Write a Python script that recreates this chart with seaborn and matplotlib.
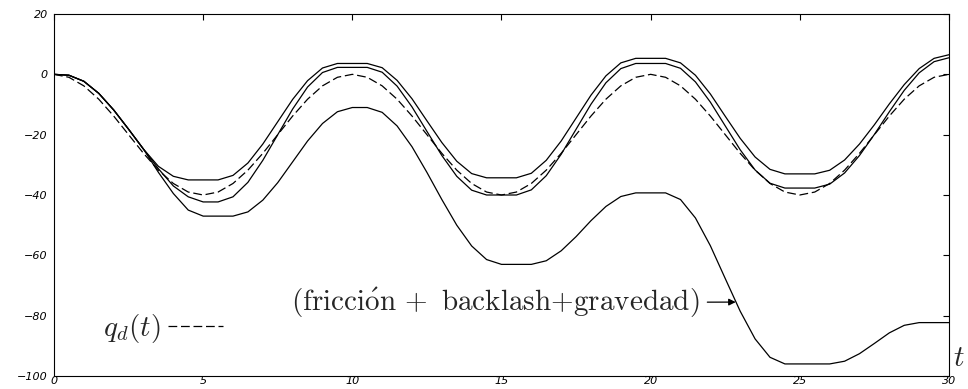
import matplotlib
matplotlib.use('Agg')
import matplotlib.pyplot as plt
import seaborn as sns

# time axis (s)
t = [0, 0.5, 1, 1.5, 2, 2.5, 3, 3.5, 4, 4.5,
     5, 5.5, 6, 6.5, 7, 7.5, 8, 8.5, 9, 9.5,
     10, 10.5, 11, 11.5, 12, 12.5, 13, 13.5, 14, 14.5,
     15, 15.5, 16, 16.5, 17, 17.5, 18, 18.5, 19, 19.5,
     20, 20.5, 21, 21.5, 22, 22.5, 23, 23.5, 24, 24.5,
     25, 25.5, 26, 26.5, 27, 27.5, 28, 28.5, 29, 29.5,
     30]

# desired trajectory q_d(t) (dashed)
q_d = [0, -0.98, -3.82, -8.24, -13.82, -20, -26.18, -31.76, -36.18, -39.02,
       -40, -39.02, -36.18, -31.76, -26.18, -20, -13.82, -8.24, -3.82, -0.98,
       0, -0.98, -3.82, -8.24, -13.82, -20, -26.18, -31.76, -36.18, -39.02,
       -40, -39.02, -36.18, -31.76, -26.18, -20, -13.82, -8.24, -3.82, -0.98,
       0, -0.98, -3.82, -8.24, -13.82, -20, -26.18, -31.76, -36.18, -39.02,
       -40, -39.02, -36.18, -31.76, -26.18, -20, -13.82, -8.24, -3.82, -0.98,
       0]

# response 1 (upper solid)
q_1 = [0, -0.3, -2.3, -6.3, -11.8, -18.2, -24.8, -30.5, -33.8, -35,
       -35, -35, -33.5, -29.4, -23.1, -15.7, -8.3, -2.1, 2.1, 3.6,
       3.6, 3.6, 2.2, -2.0, -8.1, -15.4, -22.6, -28.8, -32.9, -34.3,
       -34.3, -34.3, -32.8, -28.5, -22.1, -14.5, -6.9, -0.5, 3.8, 5.3,
       5.3, 5.3, 3.8, -0.3, -6.5, -13.9, -21.2, -27.4, -31.5, -33,
       -33, -33, -31.8, -28.4, -23.1, -16.7, -9.8, -3.4, 1.9, 5.3,
       6.5]

# response 2 (middle solid)
q_2 = [0, -0.3, -2.3, -6.3, -11.8, -18.2, -24.8, -31.3, -37.0, -40.6,
       -42.3, -42.3, -40.6, -35.8, -28.5, -20.0, -11.5, -4.2, 0.6, 2.3,
       2.3, 2.3, 0.7, -3.9, -10.8, -18.9, -26.9, -33.8, -38.4, -40,
       -40, -40, -38.3, -33.6, -26.5, -18.2, -9.9, -2.8, 1.9, 3.6,
       3.6, 3.6, 2.0, -2.5, -9.2, -17.1, -25.0, -31.7, -36.1, -37.7,
       -37.7, -37.7, -36.4, -32.7, -26.9, -19.9, -12.4, -5.3, 0.5, 4.2,
       5.5]

# response with friccion + backlash + gravedad (drifting solid)
q_3 = [0, -0.3, -2.3, -6.3, -11.8, -18.2, -24.8, -32.5, -39.5, -45,
       -47, -47, -47, -45.6, -41.7, -35.9, -29, -22.1, -16.3, -12.4,
       -11, -11, -12.6, -17.1, -24, -32.5, -41.5, -50, -56.9, -61.4,
       -63, -63, -63, -61.8, -58.5, -53.8, -48.5, -43.8, -40.5, -39.3,
       -39.3, -39.3, -41.5, -47.6, -56.8, -67.7, -78.5, -87.7, -93.8, -96,
       -96, -96, -96, -95.1, -92.6, -89.2, -85.7, -83.2, -82.3, -82.3,
       -82.3]

x_ticks = [0, 5, 10, 15, 20, 25, 30]
y_ticks = [-100, -80, -60, -40, -20, 0, 20]

sns.set_theme(style='white')
plt.rcParams['font.family'] = ['DejaVu Sans']
plt.rcParams['mathtext.fontset'] = 'cm'

fig = plt.figure(figsize=(9.68, 3.89), dpi=100)
ax = fig.add_axes([54 / 968, 13 / 389, (949 - 54) / 968, (376 - 14) / 389])

for series in (q_1, q_2, q_3):
    sns.lineplot(x=t, y=series, ax=ax, color='black', lw=0.9)
sns.lineplot(x=t, y=q_d, ax=ax, color='black', lw=0.9, linestyle=(0, (7, 3)))
qd_line = ax.lines[-1]

ax.set_xlim(0, 30)
ax.set_ylim(-100, 20)
ax.set_xticks(x_ticks)
ax.set_yticks(y_ticks)
ax.set_xlabel('')
ax.set_ylabel('')
for s in ax.spines.values():
    s.set_visible(True)
    s.set_color('black')
    s.set_linewidth(0.8)
ax.tick_params(direction='in', length=4.5, width=0.8, top=True, right=True,
               colors='black', labelsize=8)
ax.tick_params(axis='x', pad=0.2)
ax.tick_params(axis='y', pad=4.5)
for lab in ax.get_xticklabels() + ax.get_yticklabels():
    lab.set_fontstyle('italic')

ax.annotate(r'$\mathrm{(fricci\acute{o}n}\,+\ \mathrm{backlash{+}gravedad)}$',
            xy=(22.85, -75.5), xytext=(21.65, -75.7), ha='right', va='center',
            fontsize=21,
            arrowprops=dict(arrowstyle='-|>', color='black', lw=0.9,
                            shrinkA=3, shrinkB=0, mutation_scale=10))

ax.text(1.004, 0.05, r'$t$', transform=ax.transAxes, fontsize=21,
        ha='left', va='center')

ax.legend([qd_line], [r'$q_d(t)$'], markerfirst=False, frameon=False,
          loc='center left', bbox_to_anchor=(0.0547, 0.13), fontsize=21,
          handlelength=1.9, handletextpad=0.25, borderpad=0, borderaxespad=0)

fig.savefig('out.png', dpi=100)
